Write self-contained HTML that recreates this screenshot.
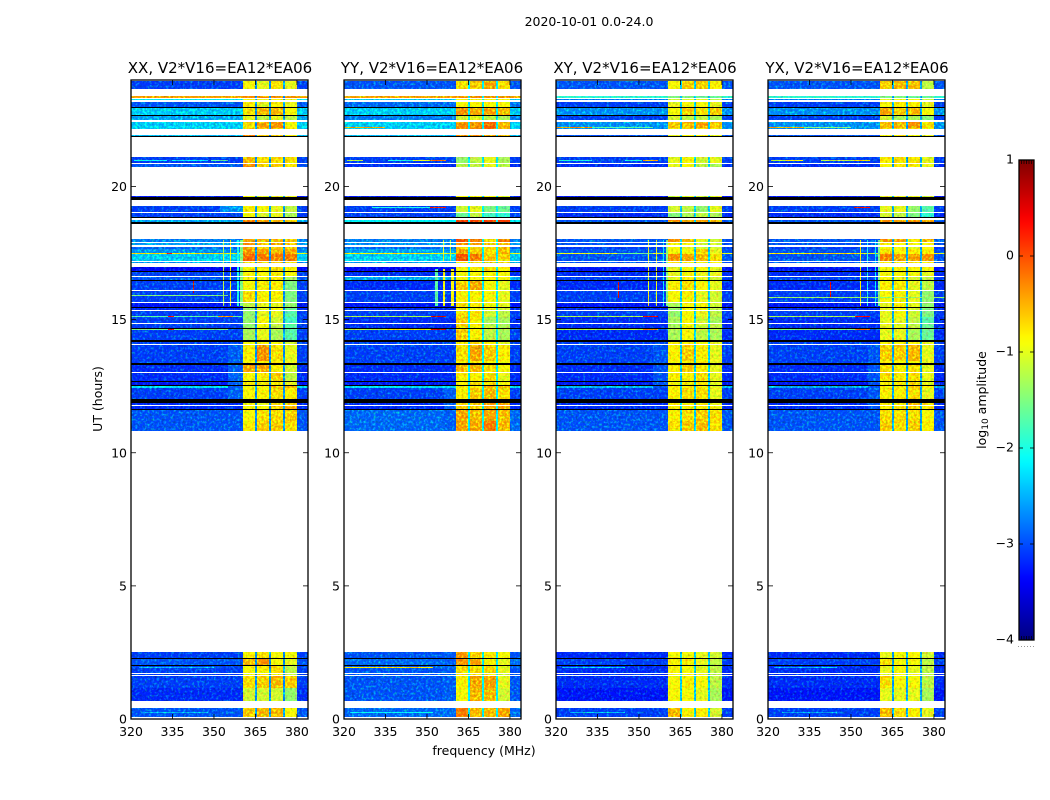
<!DOCTYPE html>
<html lang="en">
<head>
<meta charset="utf-8">
<title>2020-10-01 0.0-24.0</title>
<style>
html,body{margin:0;padding:0;background:#fff;width:1050px;height:800px;overflow:hidden}
svg{display:block;position:absolute;left:0;top:0}
text{font-family:"DejaVu Sans","Liberation Sans",sans-serif;fill:#000}
.t{font-size:15px;text-anchor:middle}
.l{font-size:12.5px}
</style>
</head>
<body>
<svg id="fig" width="1050" height="800" viewBox="0 0 1050 800" xmlns="http://www.w3.org/2000/svg">
  <defs>
    <filter id="speckle" filterUnits="userSpaceOnUse" x="0" y="0" width="1050" height="800" color-interpolation-filters="sRGB">
      <feTurbulence type="fractalNoise" baseFrequency="0.42" numOctaves="2" seed="7" result="n"/>
      <feColorMatrix in="n" type="matrix" values="1 0 0 0 0 0 1 0 0 0 0 0 1 0 0 0 0 0 0 1" result="opaque"/>
      <feColorMatrix in="n" type="matrix" values="0 0 0 0 0 0 1.1 0 0 -0.56 0 0 0 0 0 0 0 0 0 1" result="flecks"/>
      <feComposite in="SourceGraphic" in2="opaque" operator="arithmetic" k1="0.8" k2="0.6" k3="0" k4="0" result="shaded"/>
      <feComposite in="shaded" in2="flecks" operator="arithmetic" k1="0" k2="1" k3="1" k4="0" result="flecked"/>
      <feComposite in="flecked" in2="SourceGraphic" operator="in"/>
    </filter>
    <linearGradient id="jet-gradient" x1="0" y1="1" x2="0" y2="0"></linearGradient>
  </defs>
  <text class="l" x="589" y="26" text-anchor="middle">2020-10-01 0.0-24.0</text>
  <text class="t" x="220" y="73">XX, V2*V16=EA12*EA06</text>
  <text class="t" x="432" y="73">YY, V2*V16=EA12*EA06</text>
  <text class="t" x="645" y="73">XY, V2*V16=EA12*EA06</text>
  <text class="t" x="857" y="73">YX, V2*V16=EA12*EA06</text>
  <text class="l" transform="translate(102 399) rotate(-90)" text-anchor="middle">UT (hours)</text>
  <text class="l" x="484" y="755" text-anchor="middle">frequency (MHz)</text>
  <text class="l" transform="translate(986 400) rotate(-90)" text-anchor="middle">log<tspan font-size="9" dy="2">10</tspan><tspan dy="-2"> amplitude</tspan></text>
</svg>
<script>
// ---- chart data (log10 amplitude) ----
const freqTicks = [320, 335, 350, 365, 380];
const utTicks = [0, 5, 10, 15, 20];
const colorbarTicks = [1, 0, -1, -2, -3, -4];
const segmentStarts = [360.5, 365.7, 370.7, 375.7];
const segmentEnds = [365.0, 370.0, 375.0, 380.0];
const rowBottoms = [23.68,23.33,23.25,23.00,22.70,22.48,22.21,22.18,21.91,20.90,20.75,19.61,19.06,18.87,18.67,17.91,17.79,17.67,17.52,17.46,17.21,17.11,16.81,16.64,16.49,16.12,15.67,15.48,15.35,15.11,15.09,14.86,14.70,14.63,14.60,14.22,14.07,13.45,13.36,13.02,12.70,12.55,12.45,12.03,11.78,11.65,11.20,10.82,2.28,2.01,1.71,1.65,1.15,0.69,0.08];
const rowTops = [23.98,23.40,23.28,23.19,22.98,22.63,22.44,22.21,21.95,21.09,20.83,19.66,19.25,19.02,18.76,18.01,17.86,17.73,17.64,17.50,17.46,17.17,16.96,16.78,16.61,16.47,16.09,15.64,15.43,15.32,15.11,15.09,14.83,14.67,14.63,14.60,14.16,14.03,13.43,13.31,12.99,12.68,12.51,12.45,11.88,11.75,11.62,11.20,2.51,2.25,1.98,1.68,1.61,1.15,0.42];
const flagBottoms = [22.98,22.66,21.88,19.49,18.84,18.59,16.78,16.47,15.43,14.67,14.16,13.31,12.68,12.51,11.88,11.62,2.25,1.98];
const flagTops = [23.00,22.70,21.91,19.59,18.87,18.65,16.81,16.49,15.48,14.70,14.22,13.36,12.70,12.55,12.03,11.65,2.28,2.01];

const xxRows = [[-3.1,-.9,-1,-.7,-1],[-.4,-.3,-.3,-.3,-.3],[-2.2,-.9,-1,-.9,-1],[-3,-.8,-1,-.8,-1],[-2.4,-.7,-.5,-.5,-.9],[-2.6,-1,-1.2,-1,-1.2],[-2.4,-.7,-.4,-.3,-.9],[-2.4,-.6,-.6,-.6,-.7],[-2.5,-.2,-.6,-.6,-.9],[-3.1,-.5,-.7,-.7,-.7],[-3,-.3,-.6,-.6,-.8],[-3.3,-.9,-1,-1,-1],[-3.1,-.8,-.9,-1,-1.2],[-3.1,-.9,-1.1,-1,-1.3],[-2.6,-.2,-.4,-.5,-.6],[-2.8,-.4,-.5,-.5,-.6],[-2.6,-.3,-.5,-.4,-.5],[-2.9,-.4,-.6,-.6,-.6],[-2.7,-.3,-.4,-.5,-.4],[-1,-.3,-.4,-.4,-.4],[-2.4,-.1,-.2,-.2,-.2],[-2.7,-.6,-.6,-.6,-.7],[-3.4,-.8,-.8,-.7,-.8],[-3.1,-.9,-.9,-.8,-.9],[-3,-.9,-.9,-.8,-1.3],[-3.1,-.9,-.8,-.8,-1.5],[-3.1,-.7,-.8,-.8,-1.5],[-3.3,-1.2,-1,-1,-1.4],[-3.2,-1.4,-1,-.9,-1.6],[-3.1,-1.4,-1,-1,-1.7],[-3,-1.3,-1,-1,-1.7],[-3.1,-1.4,-.9,-1.1,-1.8],[-3.1,-1.4,-.9,-1.2,-1.7],[-3.1,-1.3,-.9,-1.2,-1.6],[-3,-1.3,-1,-1.2,-1.7],[-3.1,-1.3,-1,-1.3,-1.7],[-3.1,-.9,-.9,-.9,-1.1],[-3.1,-.8,-.3,-.7,-1],[-3.1,-.9,-.8,-.9,-1],[-3.2,-.4,-.4,-.8,-1.1],[-3.2,-.9,-.8,-.6,-1.2],[-3.3,-.8,-.8,-.8,-1],[-2.3,-.9,-.9,-.5,-.5],[-3.1,-.9,-.8,-.7,-.8],[-3.2,-.9,-1,-.7,-.6],[-3.2,-.9,-.9,-.6,-.5],[-3,-.9,-.7,-.7,-.6],[-3,-.8,-.6,-.6,-.7],[-3.1,-.8,-.7,-.9,-.9],[-3,-.5,-.3,-.9,-1],[-3.1,-.9,-.8,-.7,-1.2],[-3.1,-.9,-.8,-.8,-1.2],[-3.1,-.7,-.6,-.5,-.6],[-3.2,-1.1,-1.1,-1.1,-1.4],[-3,-.6,-.5,-.5,-.9]];
const yyRows = [[-3,-.7,-.6,-.4,-.7],[-.4,-.3,-.3,-.3,-.3],[-2.4,-.9,-.9,-.9,-.9],[-2.9,-.9,-.8,-.9,-.9],[-2.4,-.3,-.4,-.4,-.5],[-2.8,-1.1,-1,-1.2,-1.3],[-2.4,-.3,-.3,-.1,-.5],[-2.4,-.3,-.3,-.1,-.5],[-2.5,-.3,-.3,-.4,-.5],[-3.1,-1.4,-1.2,-1,-1.3],[-3.2,-1.2,-1.2,-1,-1.2],[-3.3,-.9,-.8,-.9,-1],[-3.1,-1.1,-1,-1.5,-1.6],[-3.1,-1.6,-1.2,-1.8,-1.9],[-2.2,.1,.1,.1,.1],[-2.8,0,-.2,-.7,-.2],[-2.7,-.3,-.4,-.5,-.4],[-2.9,-.6,-.7,-.7,-.5],[-2.6,-.4,-.6,-.7,-.5],[-1,-.4,-.5,-.7,-.5],[-2.4,0,-.2,-.6,-.6],[-2.6,-.8,-.8,-.4,-.7],[-3.4,-.9,-.8,-.7,-.8],[-3.2,-.9,-.9,-.9,-.9],[-2.6,-.9,-.9,-.9,-.9],[-3.2,-.6,-.4,-.9,-1],[-3.1,-.8,-.8,-.9,-1],[-3.3,-.7,-.8,-.9,-1],[-3.2,-.9,-.9,-1,-1.1],[-3.1,-.7,-.7,-1.1,-1.2],[-3,-.7,-.7,-1.1,-1.2],[-3.2,-.6,-.8,-1.3,-1.3],[-3.2,-.6,-.8,-1.2,-1.3],[-3.1,-.7,-.8,-1.2,-1.3],[-3,-.7,-.8,-1.1,-1.2],[-3.1,-.6,-.8,-1.2,-1.3],[-3.1,-.8,-.7,-.8,-1],[-3.1,-.7,-.4,-.6,-.8],[-3.1,-.8,-.8,-.9,-.9],[-3.2,-.5,-.5,-.7,-.9],[-3.2,-.8,-.8,-.7,-1],[-3.3,-.8,-.7,-.7,-.9],[-2.3,-.8,-.8,-.5,-.5],[-3.1,-.8,-.6,-.5,-.7],[-3.2,-.7,-.6,-.4,-.4],[-3.2,-.6,-.6,-.4,-.4],[-2.9,-.4,-.5,-.4,-.5],[-2.9,-.4,-.4,-.2,-.5],[-3,-.3,-.6,-.8,-.9],[-2.9,-.3,-.4,-.8,-1],[-3,-.7,-.7,-.7,-1],[-3,-.7,-.7,-.7,-1.1],[-3,-.8,-.4,-.4,-1],[-3,-.9,-.5,-.5,-1.1],[-2.9,-.2,-.5,-.5,-.4]];
const xyRows = [[-3,-.9,-.6,-.6,-.8],[-1.9,-1.5,-1.5,-1.6,-1.6],[-2.8,-1.1,-1,-1,-1.2],[-3.1,-1,-.9,-.9,-1],[-2.7,-.9,-.6,-.7,-.6],[-3.1,-1.1,-1.2,-1.2,-1.3],[-2.7,-.6,-.5,-.4,-.6],[-2.7,-.8,-.7,-.7,-.8],[-3,-1,-.8,-.9,-1],[-3.1,-1,-.9,-1.1,-1],[-3.2,-1,-.9,-1.2,-1.3],[-3.3,-1.1,-1,-1.1,-1],[-3.1,-1.1,-1.2,-1.4,-1],[-3.2,-1.5,-1.3,-1.2,-1.3],[-3,-.3,-.4,-.4,-.5],[-3,-.3,-.5,-1,-1.1],[-3,-.9,-.9,-1.1,-1.1],[-3.1,-.9,-1,-1.1,-1.1],[-3,-.9,-.9,-.6,-1],[-1,-.7,-.8,-.8,-1],[-3,-.3,-.4,-.5,-.7],[-3,-.8,-.9,-.9,-.9],[-3.3,-1,-.9,-.9,-1],[-3.2,-1,-.9,-1,-1],[-3.1,-1,-.9,-1,-1.1],[-3.2,-.8,-.7,-.9,-1],[-3.1,-.9,-.8,-1,-1.1],[-3.3,-1.3,-.9,-.9,-1.1],[-3.2,-1.4,-.9,-.9,-1.2],[-3.1,-1.4,-.9,-1,-1.2],[-3,-1.4,-.9,-1,-1.2],[-3.2,-1.3,-.9,-1.1,-1.3],[-3.2,-1.3,-.9,-1.1,-1.2],[-3.2,-1.2,-.9,-1.1,-1.2],[-3,-1.2,-.9,-1.1,-1.2],[-3.2,-1.3,-.9,-1.2,-1.3],[-3.1,-.8,-.8,-.9,-1],[-3.1,-.8,-.6,-.8,-1],[-3.1,-.9,-.8,-.8,-1],[-3.2,-.8,-.6,-.8,-1],[-3.2,-.8,-.8,-.7,-1],[-3.3,-.9,-.8,-.8,-1],[-2.5,-.8,-.8,-.7,-1],[-3.1,-.8,-.7,-.7,-1],[-3.2,-.8,-.8,-.7,-1],[-3.2,-.8,-.8,-.8,-.9],[-3,-.8,-.7,-.6,-.7],[-3,-.7,-.6,-.5,-.7],[-3.2,-.9,-.9,-1,-1.1],[-3.1,-.8,-.8,-1,-1.2],[-3.2,-.9,-.9,-1,-1.2],[-3.2,-.9,-.9,-1,-1.2],[-3.2,-.9,-.8,-.9,-1.2],[-3.3,-.9,-.9,-1,-1.3],[-3.1,-.5,-.8,-.8,-1.1]];
const yxRows = [[-3,-.6,-.5,-.5,-1.2],[-1.9,-1.5,-1.5,-1.6,-1.6],[-2.8,-1,-.9,-.9,-1.1],[-3.1,-.9,-.8,-.8,-1],[-2.7,-.4,-.6,-.5,-.9],[-3.1,-1.1,-1.3,-1.3,-1.5],[-2.7,-.5,-.5,-.3,-.7],[-2.7,-.7,-.7,-.7,-.9],[-3,-.9,-.8,-.9,-1],[-3.1,-.8,-.7,-.7,-1],[-3.2,-.9,-.8,-.8,-1],[-3.3,-1,-1,-1,-1.1],[-3.1,-1,-1,-1.4,-1.7],[-3.2,-1.1,-1.2,-1.5,-1.9],[-3,-.3,-.4,-.3,-.4],[-3,-.3,-.4,-.8,-.5],[-3,-.8,-.9,-.9,-.9],[-3.1,-.9,-.9,-1,-.9],[-3,-.7,-.9,-.8,-.8],[-1,-.6,-.8,-.8,-.8],[-3,-.2,-.4,-.4,-.3],[-3,-.8,-.8,-.8,-.8],[-3.3,-.9,-.8,-.9,-.9],[-3.2,-.9,-.9,-.9,-1],[-3.1,-.9,-1,-1.1,-1.2],[-3.2,-.8,-.8,-1,-1.2],[-3.1,-.9,-.8,-1,-1.4],[-3.3,-1,-.8,-1,-1.4],[-3.2,-1,-.9,-1.1,-1.5],[-3.1,-1,-.9,-1.1,-1.5],[-3,-1,-.9,-1.1,-1.5],[-3.2,-1,-1,-1.2,-1.7],[-3.2,-1,-1,-1.2,-1.6],[-3.2,-.9,-1,-1.2,-1.5],[-3,-.9,-1,-1.2,-1.5],[-3.2,-1,-1,-1.3,-1.6],[-3.1,-.8,-.9,-.9,-1],[-3.1,-.6,-.6,-.5,-1],[-3.1,-.9,-.9,-.8,-1],[-3.2,-.7,-.8,-.7,-1],[-3.2,-.7,-.8,-.7,-1],[-3.3,-.8,-.8,-.7,-1],[-2.6,-.8,-.8,-.6,-.8],[-3.1,-.8,-.8,-.7,-1],[-3.2,-.8,-.8,-.5,-.7],[-3.2,-.8,-.8,-.6,-.8],[-3,-.7,-.7,-.7,-.9],[-3,-.6,-.7,-.6,-.8],[-3.2,-1,-.9,-.9,-1.1],[-3.1,-.7,-.9,-.9,-1.2],[-3.2,-1,-.9,-1,-1.2],[-3.2,-1,-.9,-1,-1.2],[-3.2,-.7,-.9,-.9,-1.2],[-3.3,-1,-1,-1,-1.3],[-3.1,-.5,-.7,-.8,-1]];

// narrow channels between spectral windows, one level per panel
const gapLevels = [-2.7, -2.2, -2.4, -2.6];

// vertical interference and broad low-band rises: [frequency, UT from, UT to, level, width MHz]
const xxSpikes = [[355,12.03,14.03,-2.95,5.5],[352,19.06,19.25,-2.7,8.5],[353.2,15.5,18,-1.2,.4],[355.8,15.5,18,-.8,.5],[358.2,15.5,18,-2,1],[359.5,15.5,18,-1.5,1],[342.4,16,16.5,.5,.35]];
const yySpikes = [[356,10.82,12.45,-2.95,4.5],[356,0.42,2.51,-2.95,4.5],[352.9,15.5,16.9,-1.7,1],[355.8,15.5,16.9,-.9,.6],[358.8,15.5,16.9,-.9,1],[355.8,17.2,18,-1,.4],[358.2,17.2,18,-1.2,.4]];
const xySpikes = [[355,12.45,14.03,-3,5.5],[353.2,15.5,18,-1,.4],[356,15.5,18,-1,.4],[358.6,15.5,18,-2.2,.5],[359.7,15.5,18,-1.5,.8],[342.4,15.8,16.4,.5,.35]];
const yxSpikes = [[356,10.82,14.03,-3,4.5],[353.3,15.5,18,-.8,.5],[355.9,15.5,18,-2,.4],[358.6,15.5,18,-2.2,.5],[359.7,15.5,18,-1.5,.9],[342.4,15.8,16.4,.4,.35]];

// horizontal interference: [UT, frequency from, frequency to, level]
const xxStreaks = [[20.99,321,333,-2.1],[20.99,335,348,-2.2],[20.99,349,355,-1.7],[17.48,320,352,-.7],[17.48,333,335,.3],[15.10,320,360,-1.7],[15.10,333.5,335.5,.4],[15.10,351.5,357,-.3],[14.61,320,355,-1.5],[14.61,333.5,335.5,.3],[15.9,320,355,-1.5],[1.94,323,350,-2.5],[0.26,325,348,-2.5]];
const yyStreaks = [[20.99,321,327,-1.2],[20.99,336,345,-2],[20.99,345,351,-1],[20.99,351,357,-.1],[19.22,330,351,-2],[19.22,351,357,.3],[22.2,320,335,-.4],[17.48,320,355,-.8],[15.10,320,351.5,-1.3],[15.10,351.5,357,.6],[14.61,320,335,-1.2],[14.61,335,351.5,-.8],[14.61,351.5,357,.6],[1.94,320,352,-.8],[0.26,322,352,-2.1]];
const xyStreaks = [[20.99,321,333,-2],[20.99,345,351,-2],[20.99,351.5,357,-.4],[22.2,320,333,-.3],[22.2,333,355,-1.7],[17.48,320,342,-1],[17.48,342,355,-1.6],[15.10,320,351.5,-1.3],[15.10,351.5,357,.5],[14.61,320,351.5,-1.2],[14.61,351.5,357,-.2],[1.94,322,345,-2.4],[0.26,325,345,-2.5]];
const yxStreaks = [[20.99,321,327,-1.1],[20.99,327,332.5,-.9],[20.99,339,351,-1.2],[20.99,351,357,-.6],[22.2,320,333,-.4],[22.2,333,350,-1.5],[19.22,351,357,.3],[17.48,320,352,-.7],[15.83,320,384,-1.4],[15.10,320,351.5,-1.3],[15.10,351.5,357,.4],[14.61,320,351.5,-1.5],[14.61,351.5,357,-.2],[1.94,322,345,-2.5],[0.26,325,345,-2.6]];

const panelKeys = ['xx','yy','xy','yx'];
const panelRows = [xxRows, yyRows, xyRows, yxRows];
const panelSpikes = [xxSpikes, yySpikes, xySpikes, yxSpikes];
const panelStreaks = [xxStreaks, yyStreaks, xyStreaks, yxStreaks];

// ---- layout ----
const panelLefts = [131, 344, 556, 768];
const panelWidth = 177;
const plotTop = 80, plotBottom = 719;
const cbLeft = 1019, cbRight = 1034, cbTop = 160, cbBottom = 640;

const svg = document.getElementById('fig');
const NS = 'http://www.w3.org/2000/svg';
function make(tag, parent, props){
  const el = document.createElementNS(NS, tag);
  for (const k in props) el.setAttribute(k, props[k]);
  parent.appendChild(el);
  return el;
}
function xScale(p, f){ return panelLefts[p] + (f - 320) / 64 * panelWidth; }
function yScale(ut){ return plotBottom - ut / 24 * (plotBottom - plotTop); }
function cbScale(v){ return cbBottom - (v + 4) / 5 * (cbBottom - cbTop); }
function clamp(a){ return Math.max(0, Math.min(1, a)); }
function jet(v){
  const t = clamp((v + 4) / 5);
  const r = clamp(1.5 - Math.abs(4 * t - 3));
  const g = clamp(1.5 - Math.abs(4 * t - 2));
  const b = clamp(1.5 - Math.abs(4 * t - 1));
  return 'rgb(' + Math.round(r * 255) + ',' + Math.round(g * 255) + ',' + Math.round(b * 255) + ')';
}
function cell(parent, p, f1, f2, utLow, utHigh, fill, minH){
  const x1 = Math.round(xScale(p, f1)), x2 = Math.round(xScale(p, f2));
  const y1 = Math.round(yScale(utHigh)), y2 = Math.round(yScale(utLow));
  return make('rect', parent, {x: x1, y: y1, width: Math.max(1, x2 - x1), height: Math.max(minH, y2 - y1), fill: fill, 'shape-rendering': 'crispEdges'});
}

panelKeys.forEach(function(key, p){
  const panel = make('g', svg, {});
  
  

  const image = make('g', panel, {filter: 'url(#speckle)'});
  
  

  const rows = panelRows[p];
  rows.forEach(function(row, i){
    const lo = rowBottoms[i], hi = rowTops[i];
    const base = cell(image, p, 320, 384, lo, hi, jet(row[0]), 1);
    
    
  });

  panelSpikes[p].forEach(function(sp){
    rowBottoms.forEach(function(lo, i){
      const a = Math.max(lo, sp[1]), b = Math.min(rowTops[i], sp[2]);
      if (b <= a) return;
      const mark = cell(image, p, sp[0], sp[0] + sp[4], a, b, jet(sp[3]), 1);
      
      
    });
  });

  rows.forEach(function(row, i){
    const lo = rowBottoms[i], hi = rowTops[i];
    const gap = cell(image, p, segmentStarts[0], segmentEnds[3], lo, hi, jet(gapLevels[p]), 1);
    
    
    segmentStarts.forEach(function(start, s){
      const seg = cell(image, p, start, segmentEnds[s], lo, hi, jet(row[s + 1]), 1);
      
      
    });
  });

  panelStreaks[p].forEach(function(st){
    const mark = cell(image, p, st[1], st[2], st[0], st[0] + 0.02, jet(st[3]), 1);
    
    
  });

  flagBottoms.forEach(function(lo, i){
    const bar = cell(panel, p, 320, 384, lo, flagTops[i], '#000', 1);
    
    
  });

  const frame = make('rect', panel, {x: panelLefts[p], y: plotTop, width: panelWidth, height: plotBottom - plotTop, fill: 'none', stroke: '#000', 'stroke-width': 1.3});
  
  

  utTicks.forEach(function(ut){
    const y = yScale(ut);
    const left = make('line', panel, {x1: panelLefts[p], x2: panelLefts[p] + 5, y1: y, y2: y, stroke: '#000', 'stroke-width': 0.8});
    
    
    const right = make('line', panel, {x1: panelLefts[p] + panelWidth - 5, x2: panelLefts[p] + panelWidth, y1: y, y2: y, stroke: '#000', 'stroke-width': 0.8});
    
    
    const label = make('text', panel, {x: panelLefts[p] - 4, y: y + 4.5, 'text-anchor': 'end', 'font-size': 12.5});
    
    
    label.textContent = ut;
  });

  freqTicks.forEach(function(f){
    const x = xScale(p, f);
    const bottom = make('line', panel, {x1: x, x2: x, y1: plotBottom - 5, y2: plotBottom, stroke: '#000', 'stroke-width': 0.8});
    
    
    const top = make('line', panel, {x1: x, x2: x, y1: plotTop, y2: plotTop + 5, stroke: '#000', 'stroke-width': 0.8});
    
    
    const label = make('text', panel, {x: x, y: 736, 'text-anchor': 'middle', 'font-size': 12.5});
    
    
    label.textContent = f;
  });
});

// ---- colorbar ----
const grad = document.getElementById('jet-gradient');
for (let i = 0; i <= 60; i++) {
  make('stop', grad, {offset: i / 60, 'stop-color': jet(-4 + 5 * i / 60)});
}
const cb = make('g', svg, {});


const cbFill = make('rect', cb, {x: cbLeft, y: cbTop, width: cbRight - cbLeft, height: cbBottom - cbTop, fill: 'url(#jet-gradient)', stroke: '#000', 'stroke-width': 1.3});


colorbarTicks.forEach(function(v){
  const y = cbScale(v);
  const l = make('line', cb, {x1: cbLeft, x2: cbLeft + 4, y1: y, y2: y, stroke: '#000', 'stroke-width': 0.8});
  
  
  const r = make('line', cb, {x1: cbRight - 4, x2: cbRight, y1: y, y2: y, stroke: '#000', 'stroke-width': 0.8});
  
  
  const t = make('text', cb, {x: 1014, y: y + 3.5, 'text-anchor': 'end', 'font-size': 12.5});
  
  
  t.textContent = v < 0 ? '\u2212' + Math.abs(v) : String(v);
});
[0, 1, 2, 3, 4].forEach(function(i){
  const x = cbLeft + 2.5 + i * 2.5;
  const a = make('line', cb, {x1: x, x2: x, y1: cbTop, y2: cbTop + 4, stroke: '#000', 'stroke-width': 0.7});
  
  
  const b = make('line', cb, {x1: x, x2: x, y1: cbBottom - 4, y2: cbBottom, stroke: '#000', 'stroke-width': 0.7});
  
  
});
[0, 1, 2, 3, 4, 5].forEach(function(i){
  const d = make('rect', cb, {x: 1018 + i * 3, y: 646, width: 1, height: 1, fill: '#999'});
  
  
});
</script>
</body>
</html>
